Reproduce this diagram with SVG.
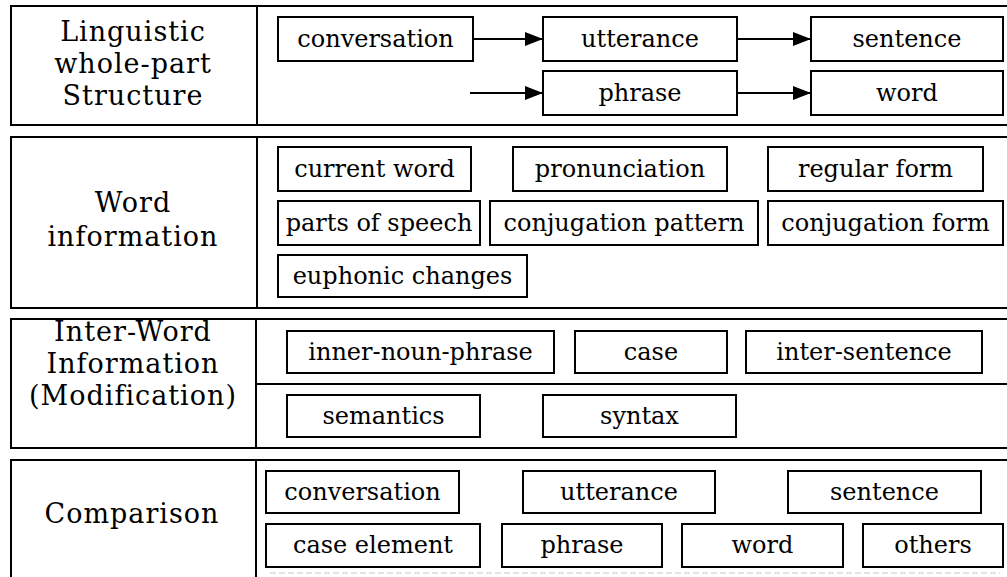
<svg xmlns="http://www.w3.org/2000/svg" width="1007" height="577" viewBox="0 0 1007 577">
  <style>
    .frame { fill: none; stroke: #000; stroke-width: 2; }
    .box rect { fill: #fff; stroke: #000; stroke-width: 2; }
    .box text { font-family: "DejaVu Serif", "Liberation Serif", serif; font-size: 24px; fill: #000; text-anchor: middle; }
    .head text { font-family: "DejaVu Serif", "Liberation Serif", serif; font-size: 27px; letter-spacing: 1px; fill: #000; text-anchor: middle; }
    .link { stroke: #000; stroke-width: 2; fill: none; marker-end: url(#arrow); }
  </style>
  <defs>
    <marker id="arrow" viewBox="0 0 18 14" refX="18" refY="7" markerWidth="18" markerHeight="14" markerUnits="userSpaceOnUse" orient="auto">
      <path d="M0,0 L18,7 L0,14 Z" fill="#000"/>
    </marker>
  </defs>
  <rect x="0" y="0" width="1007" height="577" fill="#fff"/>

  <!-- section frames -->
  <g id="frames">
    <path class="frame" d="M1007,6 H11 V125 H1007 M257,6 V125"/>
    <path class="frame" d="M1007,137 H11 V308 H1007 M257,137 V308"/>
    <path class="frame" d="M1007,319 H11 V448 H1007 M256,319 V448 M256,384 H1007"/>
    <path class="frame" d="M1007,460 H11 V577 M256,460 V577"/>
    <path d="M270,573 H1000" stroke="#c8c8c8" stroke-width="1" stroke-dasharray="6 3"/>
  </g>

  <!-- row headings -->
  <g id="head-structure" class="head">
    <text x="133" y="41">Linguistic</text>
    <text x="133" y="73">whole-part</text>
    <text x="133" y="105">Structure</text>
  </g>
  <g id="head-word" class="head">
    <text x="133" y="212">Word</text>
    <text x="133" y="246">information</text>
  </g>
  <g id="head-interword" class="head">
    <text x="133" y="341">Inter-Word</text>
    <text x="133" y="373">Information</text>
    <text x="133" y="405">(Modification)</text>
  </g>
  <g id="head-comparison" class="head">
    <text x="132" y="523">Comparison</text>
  </g>

  <!-- whole-part structure -->
  <g id="s-conversation" class="box"><rect x="278" y="17" width="195" height="44"/><text x="375.5" y="47">conversation</text></g>
  <g id="s-utterance" class="box"><rect x="543" y="17" width="194" height="44"/><text x="640" y="47">utterance</text></g>
  <g id="s-sentence" class="box"><rect x="811" y="17" width="192" height="44"/><text x="907" y="47">sentence</text></g>
  <g id="s-phrase" class="box"><rect x="543" y="71" width="194" height="44"/><text x="640" y="101">phrase</text></g>
  <g id="s-word" class="box"><rect x="811" y="71" width="192" height="44"/><text x="907" y="101">word</text></g>

  <!-- word information -->
  <g id="w-current" class="box"><rect x="278" y="147" width="193" height="44"/><text x="374.5" y="177">current word</text></g>
  <g id="w-pronunciation" class="box"><rect x="513" y="147" width="214" height="44"/><text x="620" y="177">pronunciation</text></g>
  <g id="w-regular" class="box"><rect x="768" y="147" width="215" height="44"/><text x="875.5" y="177">regular form</text></g>
  <g id="w-pos" class="box"><rect x="278" y="201" width="202" height="44"/><text x="379" y="231">parts of speech</text></g>
  <g id="w-conjpattern" class="box"><rect x="490" y="201" width="268" height="44"/><text x="624" y="231">conjugation pattern</text></g>
  <g id="w-conjform" class="box"><rect x="768" y="201" width="235" height="44"/><text x="885.5" y="231">conjugation form</text></g>
  <g id="w-euphonic" class="box"><rect x="278" y="255" width="249" height="42"/><text x="402.5" y="284">euphonic changes</text></g>

  <!-- inter-word information -->
  <g id="i-innernp" class="box"><rect x="287" y="331" width="267" height="42"/><text x="420.5" y="360">inner-noun-phrase</text></g>
  <g id="i-case" class="box"><rect x="575" y="331" width="152" height="42"/><text x="651" y="360">case</text></g>
  <g id="i-intersentence" class="box"><rect x="746" y="331" width="236" height="42"/><text x="864" y="360">inter-sentence</text></g>
  <g id="i-semantics" class="box"><rect x="287" y="395" width="193" height="42"/><text x="383.5" y="424">semantics</text></g>
  <g id="i-syntax" class="box"><rect x="543" y="395" width="193" height="42"/><text x="639.5" y="424">syntax</text></g>

  <!-- comparison -->
  <g id="c-conversation" class="box"><rect x="266" y="471" width="193" height="42"/><text x="362.5" y="500">conversation</text></g>
  <g id="c-utterance" class="box"><rect x="523" y="471" width="192" height="42"/><text x="619" y="500">utterance</text></g>
  <g id="c-sentence" class="box"><rect x="788" y="471" width="193" height="42"/><text x="884.5" y="500">sentence</text></g>
  <g id="c-caseelement" class="box"><rect x="266" y="524" width="214" height="43"/><text x="373" y="553">case element</text></g>
  <g id="c-phrase" class="box"><rect x="502" y="524" width="160" height="43"/><text x="582" y="553">phrase</text></g>
  <g id="c-word" class="box"><rect x="682" y="524" width="161" height="43"/><text x="762.5" y="553">word</text></g>
  <g id="c-others" class="box"><rect x="863" y="524" width="140" height="43"/><text x="933" y="553">others</text></g>

  <!-- connectors -->
  <g id="connectors">
    <line class="link" x1="473" y1="39" x2="543" y2="39"/>
    <line class="link" x1="737" y1="39" x2="811" y2="39"/>
    <line class="link" x1="470" y1="93" x2="543" y2="93"/>
    <line class="link" x1="737" y1="93" x2="811" y2="93"/>
  </g>
</svg>
